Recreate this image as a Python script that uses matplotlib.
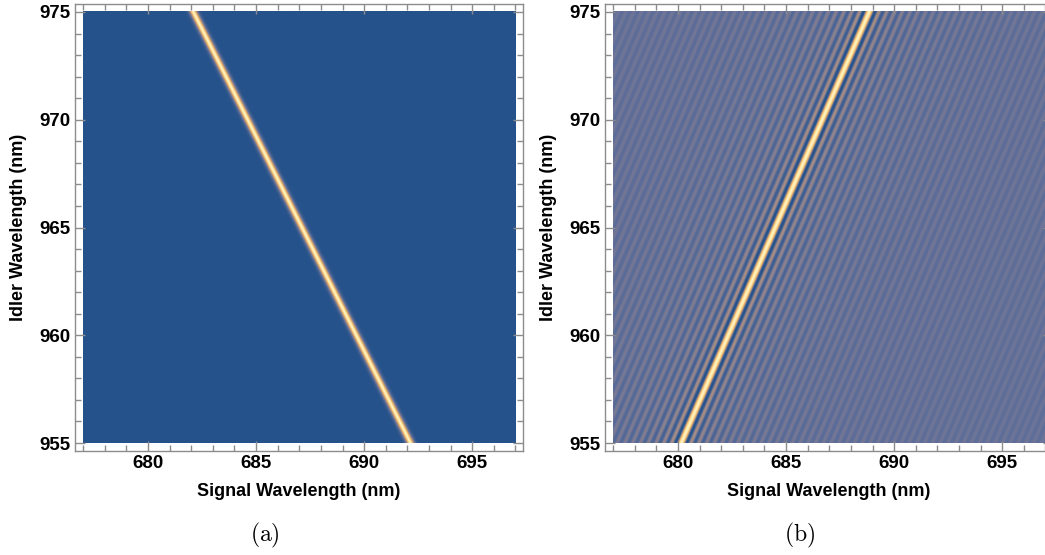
import numpy as np
import matplotlib.pyplot as plt
from matplotlib.colors import LinearSegmentedColormap
from matplotlib.ticker import MultipleLocator

plt.rcParams['font.family'] = ['Liberation Sans', 'DejaVu Sans']
plt.rcParams['mathtext.fontset'] = 'cm'

# plot ranges (nm)
signal_range = [677, 697]
idler_range = [955, 975]

# ridge centre lines: signal wavelength at idler = 955 and at idler = 975
line_a = [692.13, 682.08]   # (a) negative slope
line_b = [680.15, 688.85]   # (b) positive slope
width_a = 0.19              # gaussian width (nm)
period_b = 0.18             # sinc zero spacing (nm)

panel_labels = ['(a)', '(b)']
xticks = [680, 685, 690, 695]
yticks = [955, 960, 965, 970, 975]

# Mathematica-like density gradient
cmap = LinearSegmentedColormap.from_list('m10', [
    (0.00, '#25528a'),
    (0.30, '#65719a'),
    (0.50, '#a08a86'),
    (0.70, '#e6a45c'),
    (0.85, '#f7cf7e'),
    (1.00, '#fff3c0'),
])

xs = np.linspace(signal_range[0], signal_range[1], 900)
ys = np.linspace(idler_range[0], idler_range[1], 900)
X, Y = np.meshgrid(xs, ys)
t = (Y - idler_range[0]) / (idler_range[1] - idler_range[0])

# (a) gaussian ridge
xa = line_a[0] + (line_a[1] - line_a[0]) * t
Za = np.exp(-((X - xa) / width_a) ** 2)

# (b) sinc ridge with fringes
xb = line_b[0] + (line_b[1] - line_b[0]) * t
f = np.sinc((X - xb) / period_b)
Zb = np.sign(f) * np.abs(f) ** 0.55

fig = plt.figure(figsize=(10.45, 5.55), dpi=100)
ax1 = fig.add_axes([75 / 1045, 104 / 555, 448 / 1045, 447 / 555])
ax2 = fig.add_axes([605 / 1045, 104 / 555, 448 / 1045, 447 / 555])

extent = [signal_range[0], signal_range[1], idler_range[0], idler_range[1]]
ax1.imshow(Za, origin='lower', extent=extent, cmap=cmap, vmin=0, vmax=1,
           aspect='auto', interpolation='bilinear')
ax2.imshow(Zb, origin='lower', extent=extent, cmap=cmap,
           vmin=-0.43, vmax=1, aspect='auto', interpolation='bilinear')

for ax, lab in zip([ax1, ax2], panel_labels):
    ax.set_xlim(676.62, 697.35)
    ax.set_ylim(954.63, 975.37)
    ax.set_xticks(xticks)
    ax.set_yticks(yticks)
    ax.xaxis.set_minor_locator(MultipleLocator(1))
    ax.yaxis.set_minor_locator(MultipleLocator(1))
    ax.tick_params(which='both', direction='in', top=True, right=True,
                   color='#8c8c8c', width=1)
    ax.tick_params(which='major', length=7, labelsize=13.5, pad=3)
    ax.tick_params(which='minor', length=4)
    for s in ax.spines.values():
        s.set_color('#8c8c8c')
        s.set_linewidth(1)
    for tl in ax.get_xticklabels() + ax.get_yticklabels():
        tl.set_fontweight('bold')
    ax.set_xlabel('Signal Wavelength (nm)', fontsize=13, fontweight='bold', labelpad=8)
    ax.set_ylabel('Idler Wavelength (nm)', fontsize=13, fontweight='bold', labelpad=9)

fig.text(265 / 1045, 1 - 535 / 555, r'$\mathrm{(a)}$', fontsize=17, ha='center', va='center')
fig.text(800 / 1045, 1 - 535 / 555, r'$\mathrm{(b)}$', fontsize=17, ha='center', va='center')

fig.savefig('out.png', dpi=100)
